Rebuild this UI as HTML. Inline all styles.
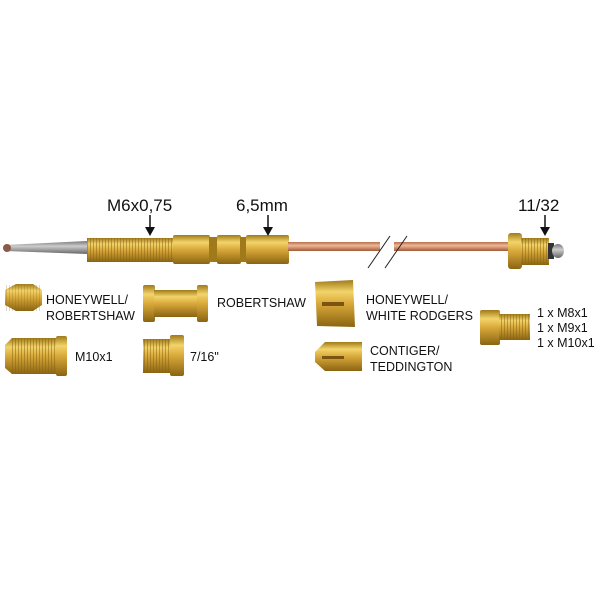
<!DOCTYPE html>
<html><head><style>
body{margin:0;background:#fff;width:600px;height:600px;overflow:hidden}
svg{display:block}
text{font-family:"Liberation Sans",Arial,sans-serif;fill:#111}
</style></head><body>
<svg width="600" height="600" viewBox="0 0 600 600">
<defs>
<linearGradient id="b" x1="0" y1="0" x2="0" y2="1">
<stop offset="0" stop-color="#a07a1a"/><stop offset="0.25" stop-color="#f2d46a"/><stop offset="0.5" stop-color="#d9a93a"/><stop offset="1" stop-color="#8a6412"/></linearGradient>
<linearGradient id="c" x1="0" y1="0" x2="0" y2="1">
<stop offset="0" stop-color="#b8704a"/><stop offset="0.4" stop-color="#f0b898"/><stop offset="1" stop-color="#a05a38"/></linearGradient>
<linearGradient id="g" x1="0" y1="0" x2="0" y2="1">
<stop offset="0" stop-color="#777"/><stop offset="0.4" stop-color="#ccc"/><stop offset="1" stop-color="#666"/></linearGradient>
<pattern id="th" width="3" height="10" patternUnits="userSpaceOnUse"><rect width="1" height="10" fill="#8a6412" opacity="0.5"/></pattern>
</defs>
<!-- probe -->
<path d="M5,245 L87,241 L87,254 L5,251 Z" fill="url(#g)"/>
<rect x="3" y="244" width="8" height="8" rx="4" fill="#8a5a4a"/>
<!-- brass body -->
<rect x="87" y="238" width="88" height="24" fill="url(#b)"/>
<rect x="87" y="238" width="88" height="24" fill="url(#th)"/>
<rect x="173" y="235" width="37" height="29" rx="2" fill="url(#b)"/>
<rect x="209" y="237" width="9" height="25" fill="#a07a1a"/>
<rect x="217" y="235" width="24" height="29" rx="2" fill="url(#b)"/>
<rect x="240" y="237" width="7" height="25" fill="#a07a1a"/>
<rect x="246" y="235" width="43" height="29" rx="2" fill="url(#b)"/>
<!-- copper tube -->
<rect x="288" y="242" width="222" height="9" fill="url(#c)"/>
<rect x="380" y="238" width="14" height="18" fill="#fff"/>
<line x1="368" y1="268" x2="390" y2="236" stroke="#222" stroke-width="1"/>
<line x1="385" y1="268" x2="407" y2="236" stroke="#222" stroke-width="1"/>
<!-- end nut -->
<rect x="508" y="233" width="14" height="36" rx="3" fill="url(#b)"/>
<rect x="521" y="238" width="28" height="27" fill="url(#b)"/>
<rect x="521" y="238" width="28" height="27" fill="url(#th)"/>
<rect x="548" y="243" width="6" height="16" fill="#333"/>
<ellipse cx="558" cy="251" rx="6" ry="7" fill="url(#g)"/>
<!-- labels -->
<text x="107" y="211" font-size="17">M6x0,75</text>
<text x="236" y="211" font-size="17">6,5mm</text>
<text x="518" y="211" font-size="17">11/32</text>
<g stroke="#111" stroke-width="1.5"><line x1="150" y1="215" x2="150" y2="228"/><line x1="268" y1="215" x2="268" y2="228"/><line x1="545" y1="215" x2="545" y2="228"/></g>
<g fill="#111"><path d="M145,227 L155,227 L150,236Z"/><path d="M263,227 L273,227 L268,236Z"/><path d="M540,227 L550,227 L545,236Z"/></g>
<!-- fittings row1 -->
<path d="M5,290 L16,284 L33,284 L42,290 L42,305 L33,311 L16,311 L5,305Z" fill="url(#b)"/>
<rect x="5" y="285" width="37" height="26" fill="url(#th)" opacity="0.5"/>
<rect x="143" y="285" width="12" height="37" rx="2" fill="url(#b)"/>
<rect x="154" y="290" width="44" height="27" fill="url(#b)"/>
<rect x="197" y="285" width="11" height="37" rx="2" fill="url(#b)"/>
<path d="M315,282 L353,280 L355,327 L317,326 Z" fill="url(#b)"/>
<rect x="322" y="302" width="22" height="4" fill="#7a5410"/>
<rect x="480" y="310" width="20" height="35" rx="2" fill="url(#b)"/>
<rect x="499" y="314" width="31" height="26" fill="url(#b)"/>
<rect x="499" y="314" width="31" height="26" fill="url(#th)"/>
<!-- row2 -->
<path d="M5,345 L12,338 L58,338 L58,374 L12,374 L5,368Z" fill="url(#b)"/>
<rect x="12" y="338" width="46" height="36" fill="url(#th)"/>
<rect x="56" y="336" width="11" height="40" rx="2" fill="url(#b)"/>
<rect x="143" y="339" width="28" height="34" fill="url(#b)"/>
<rect x="143" y="339" width="28" height="34" fill="url(#th)"/>
<rect x="170" y="335" width="14" height="41" rx="2" fill="url(#b)"/>
<path d="M315,352 L325,342 L362,342 L362,371 L325,371 L315,362Z" fill="url(#b)"/>
<rect x="322" y="356" width="22" height="3" fill="#7a5410"/>
<!-- fitting labels -->
<g font-size="12.5">
<text x="46" y="304">HONEYWELL/</text><text x="46" y="320">ROBERTSHAW</text>
<text x="217" y="307">ROBERTSHAW</text>
<text x="366" y="304">HONEYWELL/</text><text x="366" y="320">WHITE RODGERS</text>
<text x="537" y="317">1 x M8x1</text><text x="537" y="332">1 x M9x1</text><text x="537" y="347">1 x M10x1</text>
<text x="75" y="361">M10x1</text>
<text x="190" y="361">7/16"</text>
<text x="370" y="355">CONTIGER/</text><text x="370" y="371">TEDDINGTON</text>
</g>
</svg>
</body></html>
